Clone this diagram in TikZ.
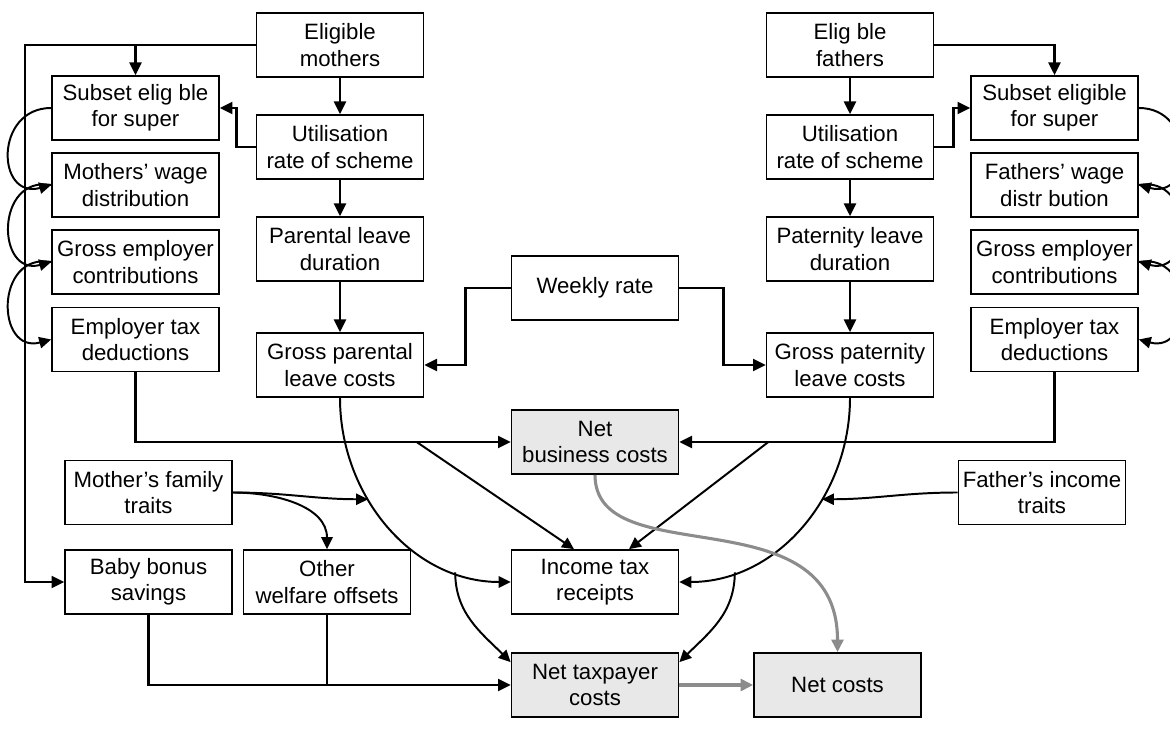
\documentclass[tikz,border=0pt]{standalone}
\usepackage{fontspec}
\setmainfont{Liberation Sans}
\usetikzlibrary{arrows.meta,calc}
\definecolor{costgray}{HTML}{E8E8E8}
\definecolor{flowgray}{HTML}{8C8C8C}
\tikzset{
  box/.style={draw, line width=1.2pt, minimum width=4.175cm, minimum height=1.6cm,
    inner sep=1pt, align=center, font=\fontsize{15.8}{18.8}\selectfont},
  cost/.style={box, fill=costgray},
  link/.style={line width=1.7pt, -{Triangle[length=9pt,width=8.5pt]}},
  bendlink/.style={line width=1.4pt, -{Triangle[length=8.5pt,width=8pt]}},
  greylink/.style={line width=2.2pt, color=flowgray, -{Triangle[length=9pt,width=8.5pt]}}
}
\begin{document}
\begin{tikzpicture}
    \useasboundingbox (0,0) rectangle (29.25,18.275);
    %\draw[help lines, color=blue!20, step=1cm] (0,0) grid (29.25,18.275);
    % mothers
    \node[box] (mothers) at (8.5,17.15) {Eligible\\mothers};
    \node[box] (musage)  at (8.5,14.6)  {Utilisation\\rate of scheme};
    \node[box] (mdur)    at (8.5,12.05) {Parental leave\\duration};
    \node[box] (mgross)  at (8.5,9.15)  {Gross parental\\leave costs};
    \node[box] (msuper)  at (3.3875,15.575) {Subset elig ble\\for super};
    \node[box] (mwage)   at (3.3875,13.65)  {Mothers’ wage\\distribution};
    \node[box] (memp)    at (3.3875,11.725) {Gross employer\\contributions};
    \node[box] (mtax)    at (3.3875,9.7875) {Employer tax\\deductions};
    \node[box] (mtraits) at (3.7125,5.9625) {Mother’s family\\traits};
    \node[box] (baby)    at (3.7125,3.725)  {Baby bonus\\savings};
    \node[box] (welfare) at (8.175,3.725)   {Other\\welfare offsets};
    % fathers
    \node[box] (fathers) at (21.25,17.15) {Elig ble\\fathers};
    \node[box] (fusage)  at (21.25,14.6)  {Utilisation\\rate of scheme};
    \node[box] (fdur)    at (21.25,12.05) {Paternity leave\\duration};
    \node[box] (fgross)  at (21.25,9.15)  {Gross paternity\\leave costs};
    \node[box] (fsuper)  at (26.3625,15.575) {Subset eligible\\for super};
    \node[box] (fwage)   at (26.3625,13.65)  {Fathers’ wage\\distr bution};
    \node[box] (femp)    at (26.3625,11.725) {Gross employer\\contributions};
    \node[box] (ftax)    at (26.3625,9.7875) {Employer tax\\deductions};
    \node[box] (ftraits) at (26.05,5.9625)   {Father’s income\\traits};
    % shared
    \node[box]  (rate)     at (14.875,11.075) {Weekly rate};
    \node[cost] (business) at (14.875,7.225)  {Net\\business costs};
    \node[box]  (income)   at (14.875,3.725)  {Income tax\\receipts};
    \node[cost] (taxpayer) at (14.875,1.15)   {Net taxpayer\\costs};
    \node[cost] (net)      at (20.9375,1.15)  {Net costs};

    \coordinate (lspine) at (0.625,17.15);
    \draw[link] (mothers.west) -- (lspine) |- (baby.west);
    \draw[link] (msuper.north |- mothers.west) -- (msuper.north);
    \draw[link] (mothers) -- (musage);
    \draw[link] (musage) -- (mdur);
    \draw[link] (mdur) -- (mgross);
    \draw[link] (musage.west) -- ++(-0.475,0) |- (msuper.east);
    \draw[link] (fathers.east) -| (fsuper.north);
    \draw[link] (fathers) -- (fusage);
    \draw[link] (fusage) -- (fdur);
    \draw[link] (fdur) -- (fgross);
    \draw[link] (fusage.east) -- ++(0.475,0) |- (fsuper.west);
    \draw[link] (rate.west) -- ++(-1.125,0) |- (mgross.east);
    \draw[link] (rate.east) -- ++(1.1,0) |- (fgross.west);

    % super chains
    \draw[bendlink] (msuper.west) to[out=180,in=195,looseness=1.9] (mwage.west);
    \draw[bendlink] (mwage.west) to[out=170,in=195,looseness=1.9] (memp.west);
    \draw[bendlink] (memp.west) to[out=170,in=195,looseness=1.9] (mtax.west);
    \draw[bendlink] (fsuper.east) to[out=0,in=-15,looseness=1.9] (fwage.east);
    \draw[bendlink] (fwage.east) to[out=10,in=-15,looseness=1.9] (femp.east);
    \draw[bendlink] (femp.east) to[out=10,in=-15,looseness=1.9] (ftax.east);

    % business costs
    \draw[link] (mtax.south) |- (business.west);
    \draw[link] (ftax.south) |- (business.east);
    \coordinate (mjoin) at ($(business.west)+(-2.35,0)$);
    \coordinate (fjoin) at ($(business.east)+(2.225,0)$);
    \draw[bendlink] (mjoin) -- ($(income.north)+(-0.525,0)$);
    \draw[bendlink] (fjoin) -- ($(income.north)+(0.85,0)$);

    % gross costs to tax
    \draw[bendlink] (mgross.south) to[out=-90,in=180]
      coordinate[pos=0.375] (mhit) coordinate[pos=0.8] (mfork) (income.west);
    \draw[bendlink] (fgross.south) to[out=-90,in=0]
      coordinate[pos=0.375] (fhit) coordinate[pos=0.8] (ffork) (income.east);
    \draw[bendlink] (mfork) to[out=-90,in=135] ($(taxpayer.north west)+(0,-0.25)$);
    \draw[bendlink] (ffork) to[out=-90,in=45] ($(taxpayer.north east)+(0,-0.25)$);
    \draw[bendlink] (mtraits.east) to[out=0,in=180] (mhit);
    \draw[bendlink] (mtraits.east) to[out=0,in=90] (welfare.north);
    \draw[bendlink] (ftraits.west) to[out=180,in=0] (fhit);

    % taxpayer costs
    \draw[link] (baby.south) |- (taxpayer.west);
    \draw[line width=1.7pt] (welfare.south) -- (welfare.south |- taxpayer.west);
    \draw[greylink] (taxpayer) -- (net);
    \draw[greylink] (business.south) .. controls +(0,-2.5) and +(0,4) .. (net.north);
\end{tikzpicture}
\end{document}
